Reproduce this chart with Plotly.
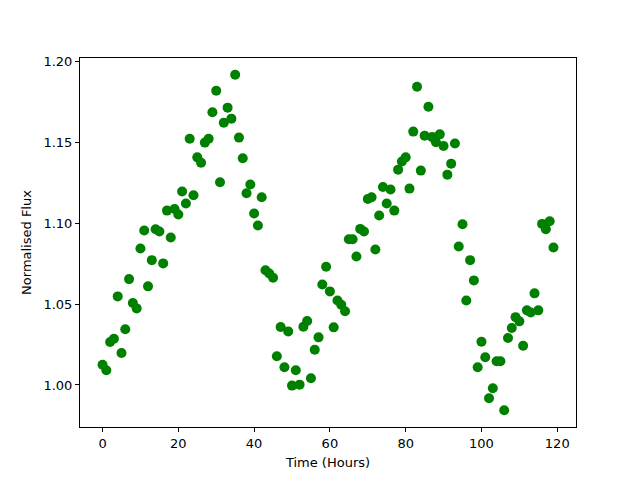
import plotly.graph_objects as go

time_hours = list(range(120))
norm_flux = [
    1.0125, 1.0091, 1.0265, 1.0286, 1.0547, 1.0197, 1.0344, 1.0654, 1.0506, 1.0473,
    1.0843, 1.0954, 1.0609, 1.0771, 1.0962, 1.0948, 1.0751, 1.1077, 1.0911, 1.1087,
    1.1053, 1.1195, 1.1121, 1.1521, 1.1172, 1.1406, 1.1373, 1.1497, 1.1521, 1.1684,
    1.1817, 1.1252, 1.1620, 1.1713, 1.1645, 1.1916, 1.1528, 1.1400, 1.1184, 1.1238,
    1.1059, 1.0985, 1.1159, 1.0709, 1.0689, 1.0662, 1.0177, 1.0358, 1.0109, 1.0331,
    0.9996, 1.0091, 1.0002, 1.0360, 1.0395, 1.0041, 1.0218, 1.0294, 1.0621, 1.0730,
    1.0578, 1.0356, 1.0522, 1.0495, 1.0455, 1.0900, 1.0900, 1.0794, 1.0964, 1.0948,
    1.1149, 1.1159, 1.0837, 1.1047, 1.1223, 1.1121, 1.1207, 1.1077, 1.1330, 1.1380,
    1.1406, 1.1213, 1.1565, 1.1842, 1.1324, 1.1540, 1.1719, 1.1531, 1.1499, 1.1548,
    1.1476, 1.1299, 1.1367, 1.1491, 1.0855, 1.0993, 1.0522, 1.0771, 1.0646, 1.0109,
    1.0267, 1.0171, 0.9918, 0.9980, 1.0146, 1.0146, 0.9844, 1.0290, 1.0352, 1.0419,
    1.0393, 1.0242, 1.0461, 1.0448, 1.0566, 1.0461, 1.0995, 1.0962, 1.1011, 1.0849,
]
x_ticks = [0, 20, 40, 60, 80, 100, 120]
y_ticks = [1.00, 1.05, 1.10, 1.15, 1.20]

xmin, xmax = min(time_hours), max(time_hours)
ymin, ymax = min(norm_flux), max(norm_flux)
xpad = 0.05 * (xmax - xmin)
ypad = 0.05 * (ymax - ymin)

fig = go.Figure(go.Scatter(
    x=time_hours, y=norm_flux, mode="markers",
    marker=dict(color="#008000", size=10, line=dict(width=0)),
))

axis_common = dict(
    showgrid=False, zeroline=False, showline=True, linecolor="black", linewidth=1,
    mirror=True, ticks="outside", ticklen=4, tickwidth=1, tickcolor="black",
    tickfont=dict(family="DejaVu Sans", size=13, color="black"),
)
fig.update_xaxes(
    range=[xmin - xpad, xmax + xpad], tickvals=x_ticks,
    title=dict(text="Time (Hours)", font=dict(family="DejaVu Sans", size=13, color="black"), standoff=8),
    **axis_common,
)
fig.update_yaxes(
    range=[ymin - ypad, ymax + ypad], tickvals=y_ticks, tickformat=".2f",
    title=dict(text="Normalised Flux", font=dict(family="DejaVu Sans", size=13, color="black"), standoff=8),
    **axis_common,
)
fig.update_layout(
    width=640, height=480,
    margin=dict(l=72, r=72, t=50, b=61),
    plot_bgcolor="white", paper_bgcolor="white",
    showlegend=False,
)
fig.write_html("out.html")
